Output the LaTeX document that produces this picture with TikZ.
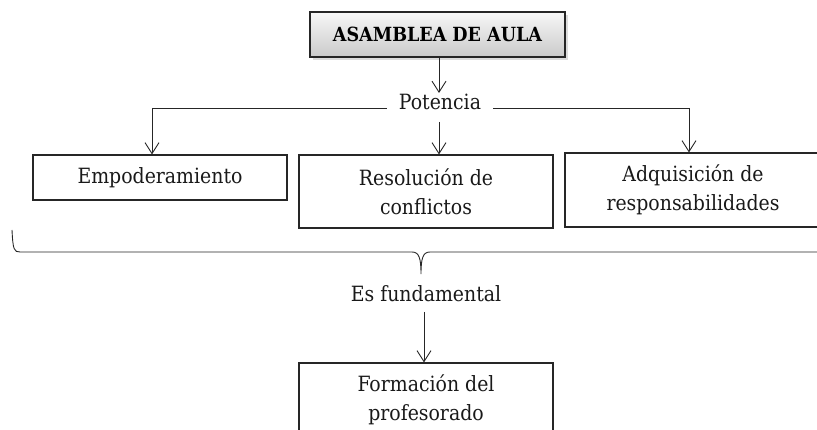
\documentclass[tikz,border=0pt]{standalone}
\usepackage{fontspec}
\setmainfont{DejaVu Serif Condensed}
\usetikzlibrary{arrows.meta,shadows}
\tikzset{
  arr/.style={draw=black!85, line width=0.9pt, -{Straight Barb[length=11pt,width=14pt,line width=0.9pt]}},
  conn/.style={draw=black!85, line width=0.9pt},
  boxn/.style={draw=black!85, line width=1.1pt, minimum width=254pt, align=center, inner sep=0pt,
    font=\fontsize{21}{29}\selectfont, text=black!90},
  lbl/.style={font=\fontsize{21}{29}\selectfont, text=black!90, inner ysep=2pt, inner xsep=12pt},
  titlebox/.style={draw=black!85, line width=1.3pt, minimum width=255pt, minimum height=45pt,
    top color=gray!6, bottom color=gray!42,
    drop shadow={shadow xshift=3pt, shadow yshift=-3pt, fill=gray!55},
    font=\fontsize{19.5}{22}\selectfont\bfseries, text=black}
}
\begin{document}
\begin{tikzpicture}[x=1pt,y=-1pt]
\useasboundingbox (0,0) rectangle (817,430);
\clip (0,0) rectangle (817,430);
% title
\node[titlebox] (title) at (437.5,34.5) {ASAMBLEA DE AULA};
% Potencia
\node[lbl, anchor=base] (pot) at (440,110) {Potencia};
% boxes
\node[boxn, minimum height=45pt] (b1) at (160,177.5) {Empoderamiento};
\node[boxn, minimum height=73pt] (b2) at (426,191.5) {Resolución de\\conflictos};
\node[boxn, minimum width=256pt, minimum height=74pt] (b3) at (693,190) {\hspace*{-4pt}Adquisición de\hspace*{-4pt}\\\hspace*{-4pt}responsabilidades\hspace*{-4pt}};
\coordinate (c1) at (152,108);
\coordinate (c3) at (689,108);
\draw[arr] (title.south -| 439,0) -- (439,93);
\draw[conn] (c1) -- (c1 -| pot.west);
\draw[conn] (pot.east |- c3) -- (c3);
\draw[arr] (c1) -- (c1 |- b1.north);
\draw[arr] (c3) -- (c3 |- b3.north);
\draw[arr] (439,122) -- (439,0 |- b2.north);
% brace
\coordinate (bl) at (12,230);
\coordinate (bt) at (421,274);
\draw[conn] (bl) .. controls (13,250) and (14,252) .. (20,252) -- (412,252)
  .. controls (419,252) and (421,258) .. (bt)
  .. controls (421,258) and (423,252) .. (430,252) -- (830,252);
% Es fundamental
\node[lbl, anchor=base] (fund) at (426,302) {Es fundamental};
\node[boxn, minimum height=74pt] (b4) at (426,400) {Formación del\\profesorado};
\draw[arr] (424,312) -- (424,0 |- b4.north);
\end{tikzpicture}
\end{document}
